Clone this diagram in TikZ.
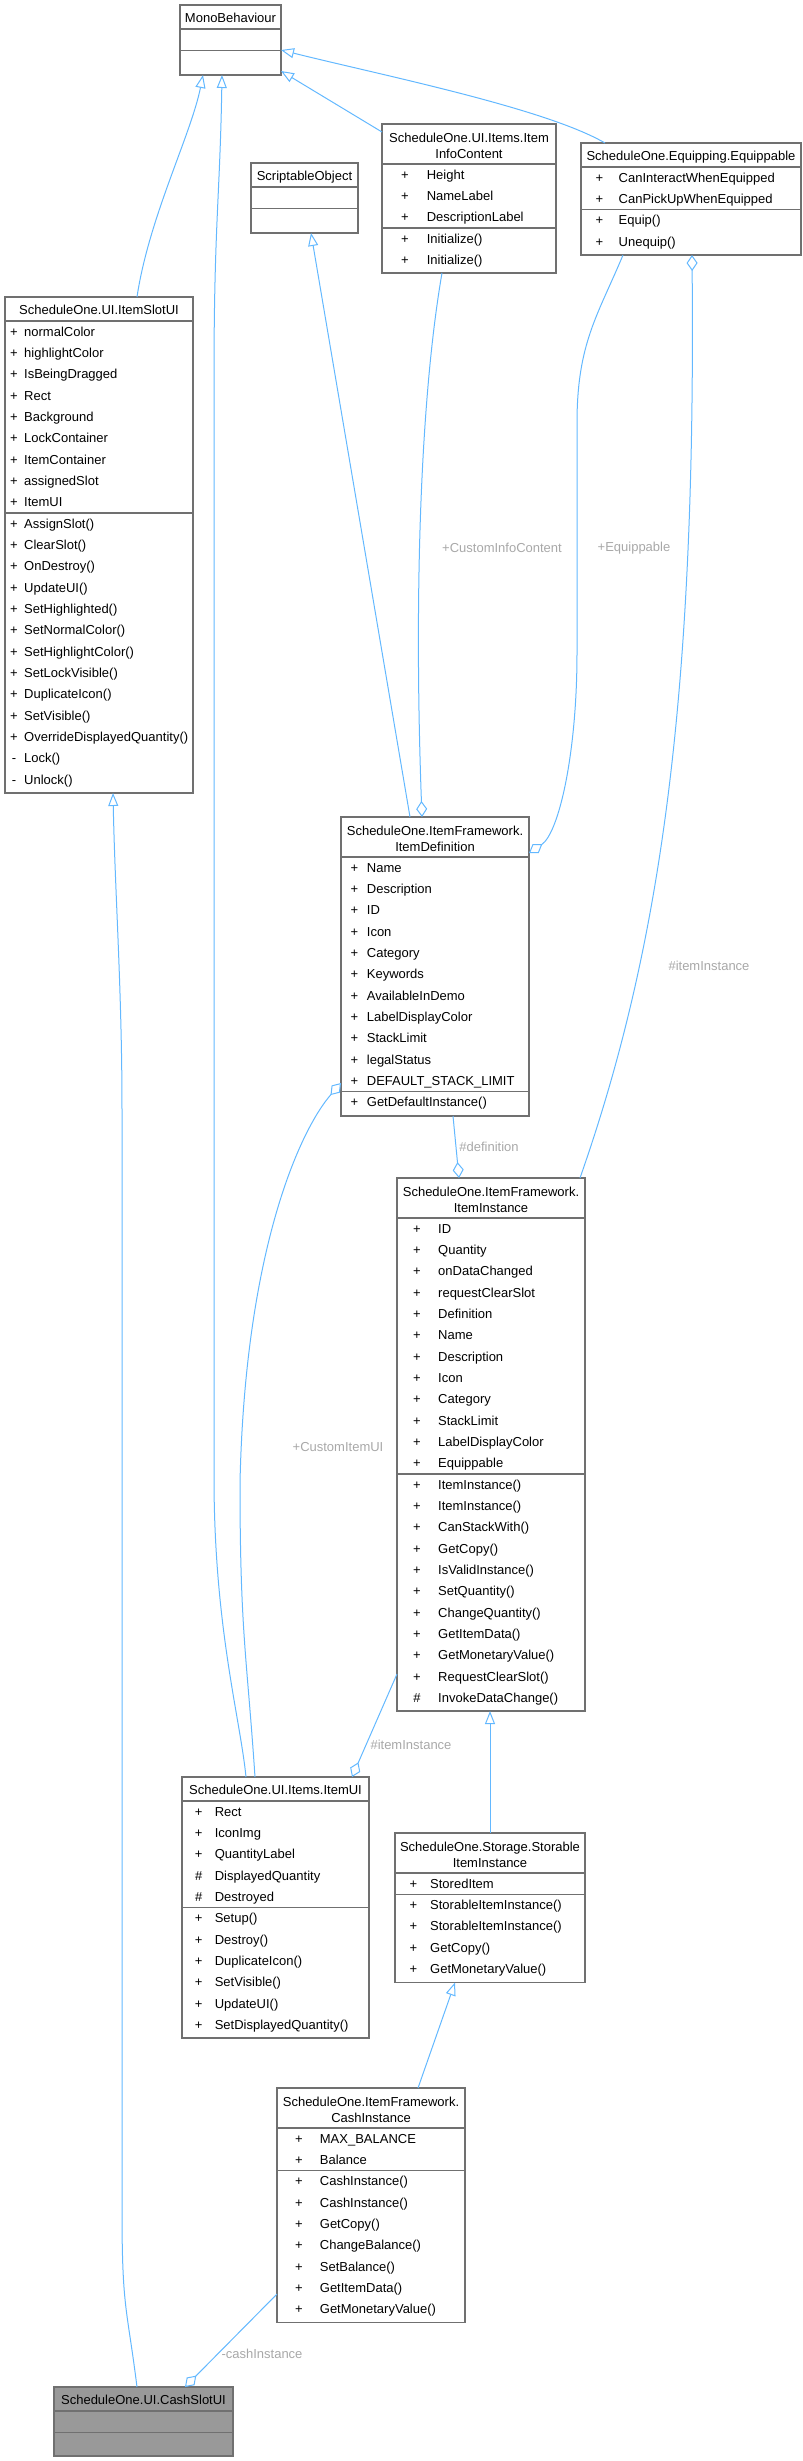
\documentclass[tikz,border=0pt]{standalone}
\usepackage{fontspec}
\setmainfont{Liberation Sans}
\usetikzlibrary{calc,arrows.meta}

\definecolor{edgeblue}{HTML}{63B8FF}
\definecolor{boxgray}{HTML}{707070}
\definecolor{fillgray}{HTML}{999999}
\definecolor{labelgray}{HTML}{A8A8A8}

\tikzset{
  cls/.style={draw=boxgray, fill=white, line width=1.2pt, inner sep=0pt, outer sep=0pt, anchor=north west},
  divider/.style={draw=boxgray, line width=1.2pt},
  ttl/.style={anchor=base, inner sep=0pt},
  sym/.style={anchor=base, inner sep=0pt},
  mem/.style={anchor=base west, inner sep=0pt},
  inh/.style={draw=edgeblue, line width=1pt, arrows={-Triangle[open, length=13pt, width=10pt]}},
  agg/.style={draw=edgeblue, line width=1pt, arrows={Diamond[open, length=16pt, width=11pt]-}},
  elabel/.style={text=labelgray, inner sep=0pt},
}

\begin{document}
\begin{tikzpicture}[x=1pt, y=-1pt, font=\fontsize{13}{16}\selectfont]
    \useasboundingbox (0,0) rectangle (803,2461);
    % row pitch
    \def\rowh{21.33}

    % MonoBehaviour
    \node[cls, minimum width=101, minimum height=70] (mono) at (180,5) {};
    \node[ttl] (mono-t) at ($(mono.north)+(0,17.7)$) {MonoBehaviour};
    \draw[divider] ($(mono.north west)+(0,24)$) -- ($(mono.north east)+(0,24)$);
    \draw[divider] ($(mono.north west)+(0,45.3)$) -- ($(mono.north east)+(0,45.3)$);

    % ScriptableObject
    \node[cls, minimum width=107, minimum height=70] (scrobj) at (251,163) {};
    \node[ttl] (scrobj-t) at ($(scrobj.north)+(0,17.7)$) {ScriptableObject};
    \draw[divider] ($(scrobj.north west)+(0,24)$) -- ($(scrobj.north east)+(0,24)$);
    \draw[divider] ($(scrobj.north west)+(0,45.3)$) -- ($(scrobj.north east)+(0,45.3)$);

    % ItemInfoContent
    \node[cls, minimum width=174, minimum height=149] (info) at (382,124) {};
    \node[ttl] (info-t1) at ($(info.north)+(0,18.1)$) {ScheduleOne.UI.Items.Item};
    \node[ttl] (info-t2) at ($(info.north)+(0,34.1)$) {InfoContent};
    \draw[divider] ($(info.north west)+(0,40)$) -- ($(info.north east)+(0,40)$);
    \draw[divider] ($(info.north west)+(0,104)$) -- ($(info.north east)+(0,104)$);
    \foreach \sy/\nm [count=\i from 0] in {+/Height, +/NameLabel, +/DescriptionLabel, +/Initialize(), +/Initialize()}{
        \node[sym] (info-s\i) at ($(info.north west)+(23,40+15.3+\i*\rowh)$) {\sy};
        \node[mem] (info-m\i) at ($(info.north west)+(44.6,40+15.3+\i*\rowh)$) {\nm};
    }

    % Equippable
    \node[cls, minimum width=220, minimum height=112] (equip) at (581,143) {};
    \node[ttl] (equip-t) at ($(equip.north)+(0,17.7)$) {ScheduleOne.Equipping.Equippable};
    \draw[divider] ($(equip.north west)+(0,24)$) -- ($(equip.north east)+(0,24)$);
    \draw[divider] ($(equip.north west)+(0,66.7)$) -- ($(equip.north east)+(0,66.7)$);
    \foreach \sy/\nm [count=\i from 0] in {+/CanInteractWhenEquipped, +/CanPickUpWhenEquipped, +/Equip(), +/Unequip()}{
        \node[sym] (equip-s\i) at ($(equip.north west)+(18.5,24+15.3+\i*\rowh)$) {\sy};
        \node[mem] (equip-m\i) at ($(equip.north west)+(37.5,24+15.3+\i*\rowh)$) {\nm};
    }

    % ItemSlotUI
    \node[cls, minimum width=188, minimum height=496] (slotui) at (5,297) {};
    \node[ttl] (slotui-t) at ($(slotui.north)+(0,17.7)$) {ScheduleOne.UI.ItemSlotUI};
    \draw[divider] ($(slotui.north west)+(0,24)$) -- ($(slotui.north east)+(0,24)$);
    \draw[divider] ($(slotui.north west)+(0,216)$) -- ($(slotui.north east)+(0,216)$);
    \foreach \sy/\nm [count=\i from 0] in {+/normalColor, +/highlightColor, +/IsBeingDragged, +/Rect, +/Background,
        +/LockContainer, +/ItemContainer, +/assignedSlot, +/ItemUI, +/AssignSlot(), +/ClearSlot(), +/OnDestroy(),
        +/UpdateUI(), +/SetHighlighted(), +/SetNormalColor(), +/SetHighlightColor(), +/SetLockVisible(),
        +/DuplicateIcon(), +/SetVisible(), +/OverrideDisplayedQuantity(), -/Lock(), -/Unlock()}{
        \node[sym] (slotui-s\i) at ($(slotui.north west)+(9,24+15.3+\i*\rowh)$) {\sy};
        \node[mem] (slotui-m\i) at ($(slotui.north west)+(19,24+15.3+\i*\rowh)$) {\nm};
    }

    % ItemDefinition
    \node[cls, minimum width=188, minimum height=299] (defn) at (341,817) {};
    \node[ttl] (defn-t1) at ($(defn.north)+(0,18.1)$) {ScheduleOne.ItemFramework.};
    \node[ttl] (defn-t2) at ($(defn.north)+(0,34.1)$) {ItemDefinition};
    \draw[divider] ($(defn.north west)+(0,40)$) -- ($(defn.north east)+(0,40)$);
    \draw[divider] ($(defn.north west)+(0,274.7)$) -- ($(defn.north east)+(0,274.7)$);
    \foreach \sy/\nm [count=\i from 0] in {+/Name, +/Description, +/ID, +/Icon, +/Category, +/Keywords,
        +/AvailableInDemo, +/LabelDisplayColor, +/StackLimit, +/legalStatus, +/DEFAULT\_STACK\_LIMIT,
        +/GetDefaultInstance()}{
        \node[sym] (defn-s\i) at ($(defn.north west)+(13.3,40+15.3+\i*\rowh)$) {\sy};
        \node[mem] (defn-m\i) at ($(defn.north west)+(25.7,40+15.3+\i*\rowh)$) {\nm};
    }

    % ItemInstance
    \node[cls, minimum width=188, minimum height=533] (inst) at (397,1178) {};
    \node[ttl] (inst-t1) at ($(inst.north)+(0,18.1)$) {ScheduleOne.ItemFramework.};
    \node[ttl] (inst-t2) at ($(inst.north)+(0,34.1)$) {ItemInstance};
    \draw[divider] ($(inst.north west)+(0,40)$) -- ($(inst.north east)+(0,40)$);
    \draw[divider] ($(inst.north west)+(0,296)$) -- ($(inst.north east)+(0,296)$);
    \foreach \sy/\nm [count=\i from 0] in {+/ID, +/Quantity, +/onDataChanged, +/requestClearSlot, +/Definition,
        +/Name, +/Description, +/Icon, +/Category, +/StackLimit, +/LabelDisplayColor, +/Equippable,
        +/ItemInstance(), +/ItemInstance(), +/CanStackWith(), +/GetCopy(), +/IsValidInstance(), +/SetQuantity(),
        +/ChangeQuantity(), +/GetItemData(), +/GetMonetaryValue(), +/RequestClearSlot(), \#/InvokeDataChange()}{
        \node[sym] (inst-s\i) at ($(inst.north west)+(20,40+15.3+\i*\rowh)$) {\sy};
        \node[mem] (inst-m\i) at ($(inst.north west)+(41,40+15.3+\i*\rowh)$) {\nm};
    }

    % ItemUI
    \node[cls, minimum width=187, minimum height=261] (itemui) at (182,1777) {};
    \node[ttl] (itemui-t) at ($(itemui.north)+(0,17.7)$) {ScheduleOne.UI.Items.ItemUI};
    \draw[divider] ($(itemui.north west)+(0,24)$) -- ($(itemui.north east)+(0,24)$);
    \draw[divider] ($(itemui.north west)+(0,130.7)$) -- ($(itemui.north east)+(0,130.7)$);
    \foreach \sy/\nm [count=\i from 0] in {+/Rect, +/IconImg, +/QuantityLabel, \#/DisplayedQuantity, \#/Destroyed,
        +/Setup(), +/Destroy(), +/DuplicateIcon(), +/SetVisible(), +/UpdateUI(), +/SetDisplayedQuantity()}{
        \node[sym] (itemui-s\i) at ($(itemui.north west)+(16.7,24+15.3+\i*\rowh)$) {\sy};
        \node[mem] (itemui-m\i) at ($(itemui.north west)+(32.6,24+15.3+\i*\rowh)$) {\nm};
    }

    % StorableItemInstance
    \node[cls, minimum width=190, minimum height=149.5] (store) at (395,1833) {};
    \node[ttl] (store-t1) at ($(store.north)+(0,18.1)$) {ScheduleOne.Storage.Storable};
    \node[ttl] (store-t2) at ($(store.north)+(0,34.1)$) {ItemInstance};
    \draw[divider] ($(store.north west)+(0,40)$) -- ($(store.north east)+(0,40)$);
    \draw[divider] ($(store.north west)+(0,61.3)$) -- ($(store.north east)+(0,61.3)$);
    \foreach \sy/\nm [count=\i from 0] in {+/StoredItem, +/StorableItemInstance(), +/StorableItemInstance(),
        +/GetCopy(), +/GetMonetaryValue()}{
        \node[sym] (store-s\i) at ($(store.north west)+(18.3,40+15.3+\i*\rowh)$) {\sy};
        \node[mem] (store-m\i) at ($(store.north west)+(35,40+15.3+\i*\rowh)$) {\nm};
    }

    % CashInstance
    \node[cls, minimum width=188, minimum height=234.5] (cash) at (277,2088) {};
    \node[ttl] (cash-t1) at ($(cash.north)+(0,18.1)$) {ScheduleOne.ItemFramework.};
    \node[ttl] (cash-t2) at ($(cash.north)+(0,34.1)$) {CashInstance};
    \draw[divider] ($(cash.north west)+(0,40)$) -- ($(cash.north east)+(0,40)$);
    \draw[divider] ($(cash.north west)+(0,82.7)$) -- ($(cash.north east)+(0,82.7)$);
    \foreach \sy/\nm [count=\i from 0] in {+/MAX\_BALANCE, +/Balance, +/CashInstance(), +/CashInstance(),
        +/GetCopy(), +/ChangeBalance(), +/SetBalance(), +/GetItemData(), +/GetMonetaryValue()}{
        \node[sym] (cash-s\i) at ($(cash.north west)+(22,40+15.3+\i*\rowh)$) {\sy};
        \node[mem] (cash-m\i) at ($(cash.north west)+(42.7,40+15.3+\i*\rowh)$) {\nm};
    }

    % CashSlotUI (the class itself)
    \node[cls, fill=fillgray, minimum width=179, minimum height=69] (cslot) at (54,2387) {};
    \node[ttl] (cslot-t) at ($(cslot.north)+(0,17.7)$) {ScheduleOne.UI.CashSlotUI};
    \draw[divider] ($(cslot.north west)+(0,24)$) -- ($(cslot.north east)+(0,24)$);
    \draw[divider] ($(cslot.north west)+(0,45.3)$) -- ($(cslot.north east)+(0,45.3)$);

    % inheritance
    \draw[inh] ($(slotui.north west)+(132,0)$) .. controls +(12,-80) and +(-12,60) .. ($(mono.south west)+(23,0)$);
    \draw[inh] ($(itemui.north west)+(64,0)$) .. controls +(-6,-60) and +(0,150) .. ++(-32,-300)
        -- ++(0,-1100) .. controls +(0,-150) and +(-2,120) .. ($(mono.south west)+(42,0)$);
    \draw[inh] ($(info.north west)+(0,8)$) -- ($(mono.south east)+(0,-4)$);
    \draw[inh] ($(equip.north west)+(24,0)$) .. controls +(-60,-35) and +(100,25) .. ($(mono.south east)+(0,-25)$);
    \draw[inh] ($(defn.north west)+(69,0)$) -- ($(scrobj.south west)+(60,0)$);
    \draw[inh] ($(store.north west)+(95,0)$) -- ($(inst.south west)+(93,0)$);
    \draw[inh] ($(cash.north west)+(141,0)$) -- ($(store.south west)+(60,0)$);
    \draw[inh] ($(cslot.north west)+(83,0)$) .. controls +(-10,-80) and +(0,100) .. ++(-15,-177)
        -- ++(0,-1100) .. controls +(0,-120) and +(2,100) .. ($(slotui.south west)+(108,0)$);

    % aggregation
    \draw[agg] ($(defn.north west)+(81,0)$) .. controls +(-8,-217) and +(-22,127) .. ($(info.south west)+(60,0)$);
    \node[elabel] (lbl-info) at (502,548) {+CustomInfoContent};
    \draw[agg] ($(defn.north east)+(0,36)$) .. controls +(30,-20) and +(0,100) .. ++(48,-200)
        -- ++(0,-230) .. controls +(0,-80) and +(-25,60) .. ($(equip.south west)+(42,0)$);
    \node[elabel] (lbl-equip) at (634,548) {+Equippable};
    \draw[agg] ($(equip.south west)+(111,0)$) .. controls +(4,445) and +(80,-228) .. ($(inst.north west)+(183,0)$);
    \node[elabel] (lbl-inst1) at (709,966) {\#itemInstance};
    \draw[agg] ($(inst.north west)+(62,0)$) -- ($(defn.south west)+(112,0)$);
    \node[elabel] (lbl-defn) at (489,1147) {\#definition};
    \draw[agg] ($(defn.north west)+(0,266)$) .. controls +(-41,47) and +(5,-233) .. ++(-101,400)
        .. controls +(0,150) and +(-8,-120) .. ($(itemui.north west)+(73,0)$);
    \node[elabel] (lbl-itemui) at (338,1447) {+CustomItemUI};
    \draw[agg] ($(itemui.north west)+(170,0)$) -- ($(inst.north west)+(0,496)$);
    \node[elabel] (lbl-inst2) at (411,1745) {\#itemInstance};
    \draw[agg] ($(cslot.north west)+(131,0)$) -- ($(cash.north west)+(0,206)$);
    \node[elabel] (lbl-cash) at (262,2354) {-cashInstance};
\end{tikzpicture}
\end{document}
